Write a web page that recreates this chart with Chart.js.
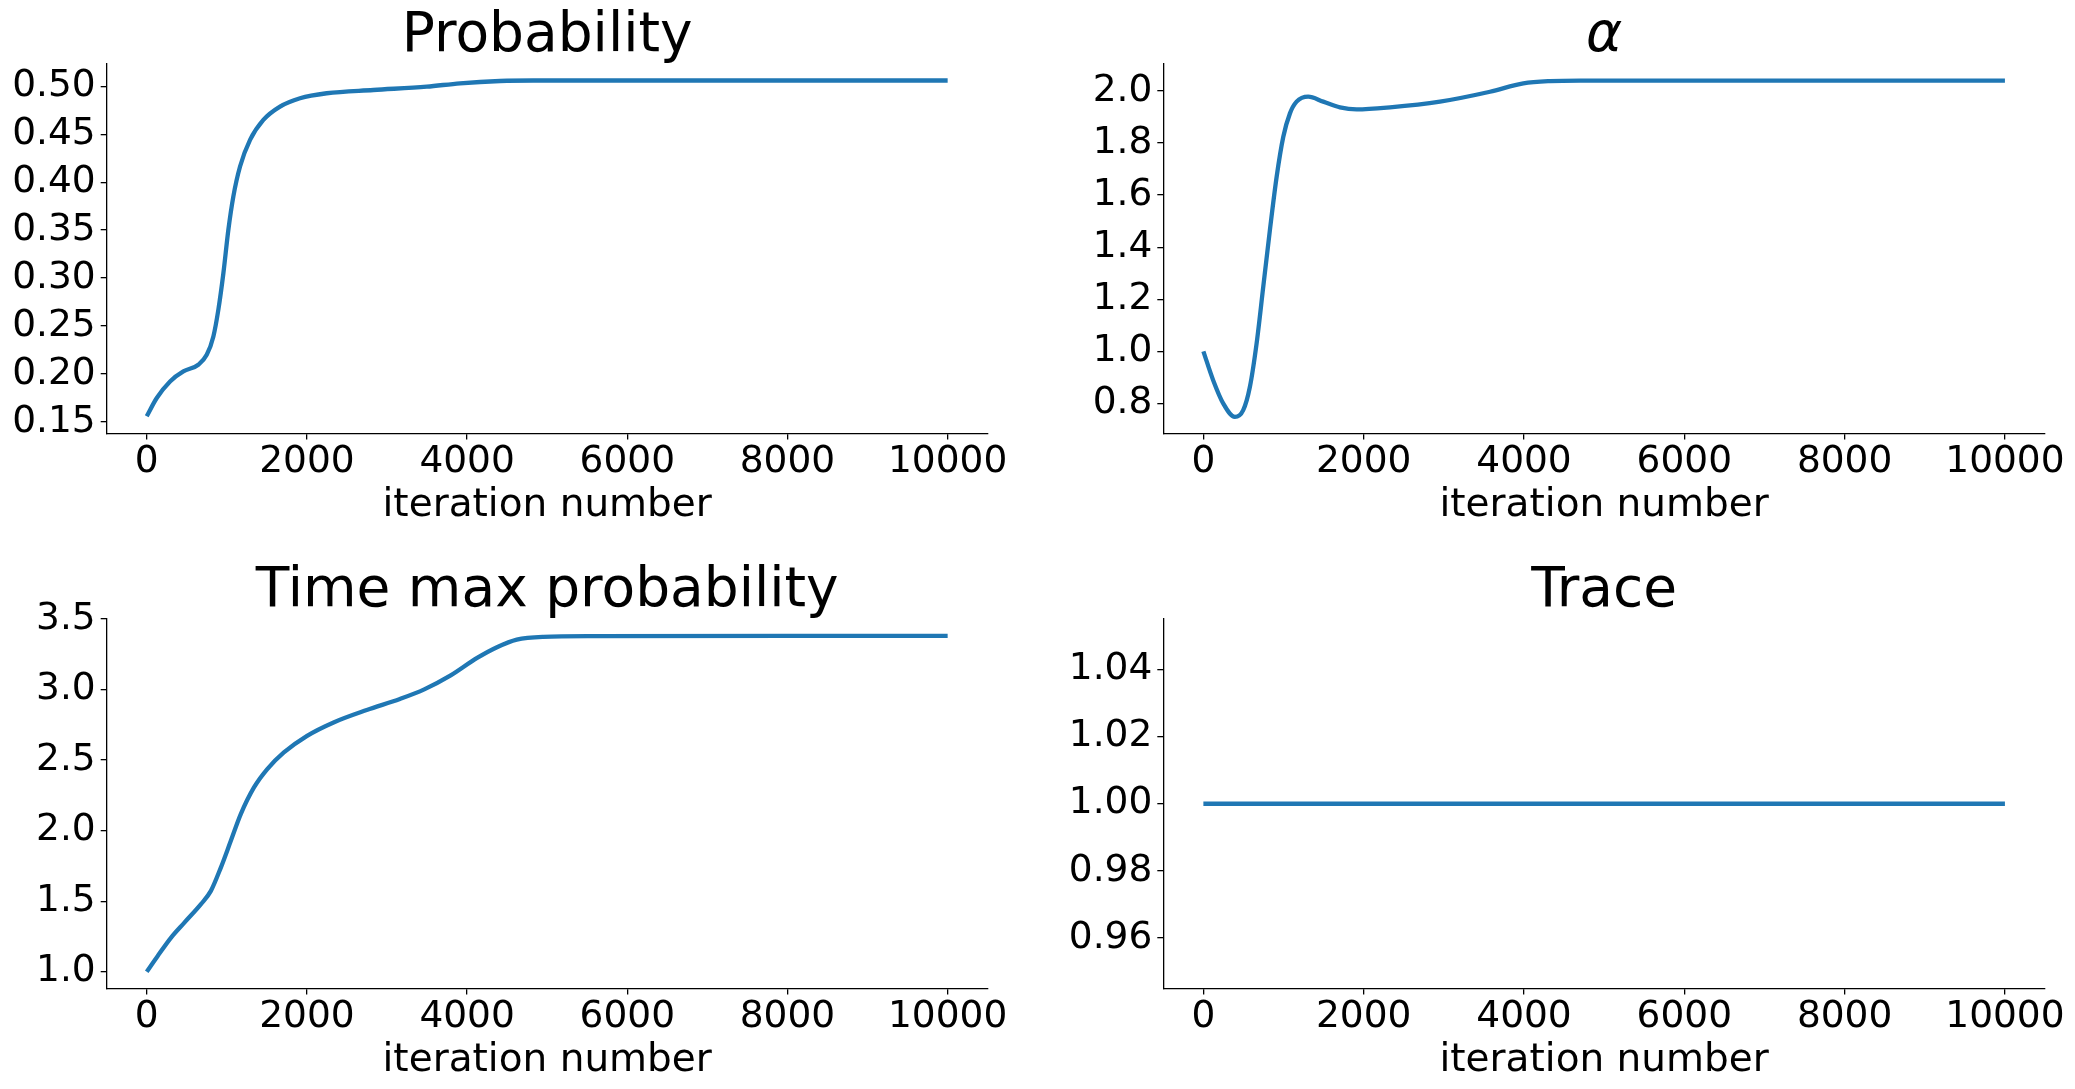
<!DOCTYPE html>
<html><head><meta charset="utf-8">
<script src="https://cdn.jsdelivr.net/npm/chart.js@4.4.0/dist/chart.umd.min.js"></script>
<style>
html,body{margin:0;padding:0;background:#fff;width:2075px;height:1089px;overflow:hidden;position:relative;}
canvas{position:absolute;}
</style></head><body>
<canvas id="c0" width="1037" height="545" style="left:0px;top:0px;width:1037px;height:545px"></canvas>
<canvas id="c1" width="1037" height="545" style="left:1037px;top:0px;width:1037px;height:545px"></canvas>
<canvas id="c2" width="1037" height="545" style="left:0px;top:555px;width:1037px;height:545px"></canvas>
<canvas id="c3" width="1037" height="545" style="left:1037px;top:555px;width:1037px;height:545px"></canvas>
<script>
// ---- data ----
const xTicks = [0, 2000, 4000, 6000, 8000, 10000];

const probIter = [0,125,291,457,644,749,832,894,957,1019,1081,1165,1290,1456,1664,1914,2247,2829,3496,3912,4411,4826,6000,8000,10000];
const probVal  = [0.156,0.175,0.1923,0.2027,0.2097,0.220,0.2392,0.267,0.3052,0.3503,0.385,0.4163,0.4441,0.4649,0.4788,0.4875,0.4927,0.4961,0.4996,0.5031,0.5055,0.506,0.506,0.506,0.506];
const probTicks = [0.15,0.20,0.25,0.30,0.35,0.40,0.45,0.50];

const alphaIter = [0,122,247,393,497,580,664,747,830,914,997,1080,1163,1308,1495,1704,1912,2328,2952,3576,3992,4326,4700,6000,8000,10000];
const alphaVal  = [1.0,0.889,0.80,0.748,0.774,0.863,1.030,1.248,1.466,1.670,1.824,1.914,1.959,1.978,1.959,1.937,1.929,1.937,1.959,1.997,2.029,2.038,2.04,2.04,2.04,2.04];
const alphaTicks = [0.8,1.0,1.2,1.4,1.6,1.8,2.0];

const timeIter = [0,137,304,470,677,801,925,1050,1174,1339,1505,1712,2002,2333,2747,3161,3465,3795,4125,4373,4620,4950,5611,8000,10000];
const timeVal  = [1.0,1.112,1.242,1.348,1.479,1.573,1.738,1.928,2.117,2.306,2.436,2.554,2.672,2.767,2.855,2.933,3.001,3.10,3.224,3.30,3.354,3.374,3.379,3.381,3.381];
const timeTicks = [1.0,1.5,2.0,2.5,3.0,3.5];

const traceIter = [0,2000,4000,6000,8000,10000];
const traceVal  = [1.0,1.0,1.0,1.0,1.0,1.0];
const traceTicks = [0.96,0.98,1.00,1.02,1.04];

// ---- chart factory ----
Chart.defaults.font.family = "'DejaVu Sans', sans-serif";
Chart.defaults.color = '#000';

function makeChart(id, title, italic, iters, vals, yTicks, yMin, yMax, dec, yWidth, padRight) {
  const axisCommon = {
    grid: {display: true, drawOnChartArea: false, drawTicks: true, tickLength: 6, color: '#000', lineWidth: 1.3},
    border: {display: true, color: '#000', width: 1.3}
  };
  new Chart(document.getElementById(id), {
    type: 'line',
    data: {
      datasets: [{
        data: iters.map((x, i) => ({x: x, y: vals[i]})),
        borderColor: '#1f77b4',
        borderWidth: 4.3,
        pointRadius: 0,
        fill: false,
        cubicInterpolationMode: 'monotone'
      }]
    },
    options: {
      responsive: false,
      devicePixelRatio: 1,
      animation: false,
      events: [],
      layout: {padding: {left: 0, right: padRight, top: 0, bottom: 15.6}},
      plugins: {
        legend: {display: false},
        tooltip: {enabled: false},
        title: {
          display: true, text: title, color: '#000', fullSize: false,
          font: {size: 55, weight: 'normal', style: italic ? 'italic' : 'normal', lineHeight: 1.0},
          padding: {top: 8.8, bottom: 0.2}
        }
      },
      scales: {
        x: Object.assign({}, axisCommon, {
          type: 'linear', min: -500, max: 10500,
          afterBuildTicks: s => { s.ticks = xTicks.map(v => ({value: v})); },
          afterFit: s => { s.height = 95.9; },
          ticks: {callback: v => String(v), font: {size: 37.5, lineHeight: 1.2}, padding: 0, maxRotation: 0, autoSkip: false, color: '#000'},
          title: {display: true, text: 'iteration number', color: '#000', font: {size: 39, lineHeight: 1.2}, padding: {top: 0, bottom: 0}}
        }),
        y: Object.assign({}, axisCommon, {
          type: 'linear', min: yMin, max: yMax,
          afterBuildTicks: s => { s.ticks = yTicks.map(v => ({value: v})); },
          afterFit: s => { s.width = yWidth; },
          ticks: {callback: v => Number(v).toFixed(dec), font: {size: 37.5}, padding: 5, autoSkip: false, color: '#000'}
        })
      }
    }
  });
}

makeChart('c0', 'Probability', false, probIter, probVal, probTicks, 0.138, 0.5232, 2, 106.7, 49.3);
makeChart('c1', 'α', true, alphaIter, alphaVal, alphaTicks, 0.6844, 2.1036, 1, 126.3, 29);
makeChart('c2', 'Time max probability', false, timeIter, timeVal, timeTicks, 0.881, 3.5, 1, 106.7, 49.3);
makeChart('c3', 'Trace', false, traceIter, traceVal, traceTicks, 0.945, 1.055, 2, 126.3, 29);
</script>
</body></html>
